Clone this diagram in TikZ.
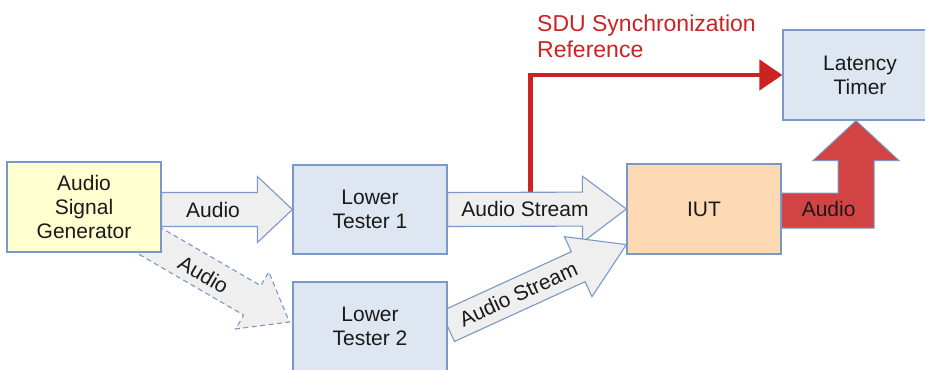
\documentclass[tikz,border=0pt]{standalone}
\usepackage{fontspec}
\setmainfont{Liberation Sans}
\usetikzlibrary{calc,arrows.meta,backgrounds}
\definecolor{bordblue}{HTML}{7A98C8}
\definecolor{boxblue}{HTML}{DDE6F1}
\definecolor{boxyellow}{HTML}{FFFFD0}
\definecolor{boxorange}{HTML}{FDDAB4}
\definecolor{arrgray}{HTML}{EFEFEF}
\definecolor{redline}{HTML}{CC2222}
\definecolor{redfill}{HTML}{D24444}
\definecolor{textblack}{HTML}{1A1A1A}
\tikzset{
  box/.style={draw=bordblue, line width=1.2pt, minimum width=154pt, minimum height=89pt,
    inner sep=0pt, align=center, text=textblack, font=\fontsize{21}{24}\selectfont},
  lbl/.style={font=\fontsize{21}{24}\selectfont, inner sep=0pt, text=textblack},
  grayarrow/.style={draw=bordblue, fill=arrgray, line width=1.1pt, line join=miter},
  dasharrow/.style={grayarrow, dash pattern=on 5pt off 3.5pt},
  redarrow/.style={draw=bordblue, fill=redfill, line width=1pt, line join=miter},
  syncline/.style={draw=redline, line width=4.5pt, line join=miter,
    -{Triangle[length=23pt,width=30pt]}},
  synctext/.style={text=redline, font=\fontsize{23}{26}\selectfont, align=left, inner sep=0pt},
}
\newcommand\blockarr[6]{%
  \path[#1] let \p1=(#2), \p2=(#3), \n1={atan2(\y2-\y1,\x2-\x1)},
    \n2={veclen(\x2-\x1,\y2-\y1)} in
    [shift={(\p1)}, rotate=\n1]
    (0pt,#4) -- ({\n2*1-#6},#4) -- ({\n2*1-#6},#5) -- ({\n2*1},0pt)
    -- ({\n2*1-#6},-#5) -- ({\n2*1-#6},-#4) -- (0pt,-#4) -- cycle;}
\begin{document}
\begin{tikzpicture}[x=1pt, y=-1pt]
\useasboundingbox (0,0) rectangle (925,369);
\clip (0,0) rectangle (925,369);
% boxes
\node[box, fill=boxyellow, minimum height=90pt] (asg) at (84,207) {Audio\\Signal\\Generator};
\node[box, fill=boxblue] (lt1) at (370,209.5) {Lower\\Tester 1};
\node[box, fill=boxblue] (lt2) at (370,326.5) {Lower\\Tester 2};
\node[box, fill=boxorange, minimum height=90pt] (iut) at (704,209) {IUT};
\node[box, fill=boxblue, minimum height=90pt] (lat) at (860,75) {Latency\\Timer};
% helper coordinates
\coordinate (a1s) at (asg.east |- lt1.west);
\coordinate (t3) at ($(iut.south west)+(0,-10)$);
\coordinate (d0) at ($(asg.center)+(59,30)$);
\coordinate (d1) at ($(lt2.west)+(-3,-4.5)$);
\coordinate (rs) at ($(lt1.east)+(83,0)$);
\coordinate (rt) at ($(lat.south)+(-4,0)$);
\begin{scope}[on background layer]
  \draw[syncline] (rs) |- (lat.west);
  \blockarr{grayarrow}{a1s}{lt1.west}{17pt}{33pt}{35pt}
  \blockarr{grayarrow}{lt1.east}{iut.west}{17pt}{33pt}{44pt}
  \blockarr{grayarrow}{lt2.east}{t3}{16.5pt}{33pt}{53pt}
  \blockarr{dasharrow}{d0}{d1}{17pt}{33pt}{43pt}
  \path[redarrow] let \p1=(iut.east), \p2=(rt) in
    (\x1,\y1+16pt) -- (\x2-18pt,\y1+16pt) -- (\x2-18pt,\y2-40pt) -- (\x2-43pt,\y2-40pt)
    -- (\x2,\y2) -- (\x2+43pt,\y2-40pt) -- (\x2+18pt,\y2-40pt) -- (\x2+18pt,\y1-19pt)
    -- (\x1,\y1-19pt) -- cycle;
\end{scope}
% labels
\node[lbl] (l1) at (213,210) {Audio};
\node[lbl] (l2) at (525,209) {Audio Stream};
\path (lt2.east) -- (t3) node[lbl, pos=0.395, sloped] (l3) {Audio Stream};
\path (d0) -- (d1) node[lbl, pos=0.42, sloped, yshift=-2pt] (l4) {Audio};
\node[lbl] (l5) at ($(iut.east)+(47,0)$) {Audio};
\node[synctext, anchor=north west] (sdu) at (537,15) {SDU Synchronization\\Reference};
\end{tikzpicture}
\end{document}
